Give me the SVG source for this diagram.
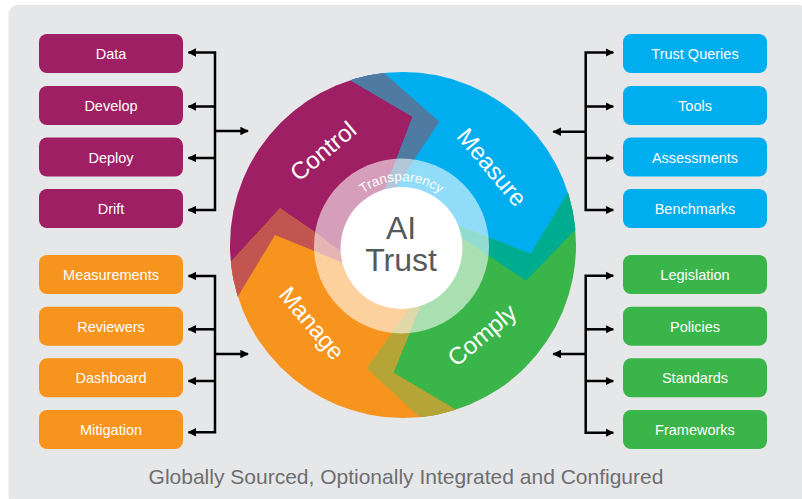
<svg xmlns="http://www.w3.org/2000/svg" width="802" height="499" viewBox="0 0 802 499">
<defs>
<style>
.box{stroke:none}
.bl{font-family:"Liberation Sans",Arial,sans-serif;font-size:14.5px;fill:#ffffff;text-anchor:middle}
.seg{font-family:"Liberation Sans",Arial,sans-serif;font-size:24px;fill:#ffffff;text-anchor:middle}
.con{fill:none;stroke:#000000;stroke-width:2.5;stroke-linejoin:miter}
.ar{marker-end:url(#ah)}
</style>
<marker id="ah" viewBox="0 0 10 10" refX="9" refY="5" markerWidth="8.5" markerHeight="8.5" markerUnits="userSpaceOnUse" orient="auto">
<path d="M0,0 L10,5 L0,10 z" fill="#000000"/>
</marker>
<clipPath id="cc"><circle cx="403" cy="245" r="173"/></clipPath>
<path id="arcT" d="M336.5,246 A65,65 0 0 1 466.5,246"/>
</defs>
<rect x="0" y="0" width="802" height="499" fill="#ffffff"/>
<rect x="8.5" y="5" width="800" height="500" rx="9" fill="#e6e7e8"/>

<g id="wheel" clip-path="url(#cc)">
<polygon fill="#9e1f63" points="402,246 385.8,202.2 415,158.3 439.3,121.7 383,72 355,47 180,40 180,340 219,327.5 237.7,296.7 275,235 314.3,251 340,261.7 365.7,272.4"/>
<polygon fill="#00aeef" points="402,246 380.7,200 396.7,158.3 412.7,116.7 350,80 316,60 330,20 640,20 640,210 602,202 576.7,228.3 526,280.7 489.3,256 445.3,226.4"/>
<polygon fill="#3ab54a" points="402,246 445.9,220.6 488.3,237.3 530.7,254 568.3,191.7 587,160.5 640,150 640,480 445.6,440.9 419.3,416.7 366.7,368.3 391.7,333.3 410,306.7 428.3,280.1"/>
<polygon fill="#f7941e" points="402,246 431.4,278.3 420.7,305 410,331.7 393.3,372.7 455,409.3 486,427.6 480,470 180,470 180,290 206.5,288.4 231,261.7 280,208.3 314.3,231.7 338.3,250 362.3,268.3"/>
<polygon fill="#4f7ba2" points="316,60 350,80 412.7,116.7 396.7,158.3 380.7,200 385.8,202.2 415,158.3 439.3,121.7 383,72 355,47"/>
<polygon fill="#00ac90" points="587,160.5 568.3,191.7 530.7,254 488.3,237.3 445.9,220.6 445.3,226.4 489.3,256 526,280.7 576.7,228.3 602,202"/>
<polygon fill="#b4a536" points="486,427.6 455,409.3 393.3,372.7 410,331.7 420.7,305 431.4,278.3 428.3,280.1 410,306.7 391.7,333.3 366.7,368.3 419.3,416.7 445.6,440.9"/>
<polygon fill="#c2554f" points="206.5,288.4 231,261.7 280,208.3 314.3,231.7 338.3,250 362.3,268.3 365.7,272.4 340,261.7 314.3,251 275,235 237.7,296.7 219,327.5"/>
</g>
<g id="ring">
<circle cx="401.5" cy="246" r="87.5" fill="#ffffff" fill-opacity="0.57"/>
<circle cx="401.5" cy="248" r="61" fill="#ffffff"/>
<text font-family="'Liberation Sans',Arial,sans-serif" font-size="13.5" fill="#ffffff" text-anchor="middle"><textPath href="#arcT" startOffset="50%">Transparency</textPath></text>
<text x="401" y="239" font-family="'Liberation Sans',Arial,sans-serif" font-size="32" fill="#58595b" text-anchor="middle">AI</text>
<text x="401" y="270.5" font-family="'Liberation Sans',Arial,sans-serif" font-size="32" fill="#58595b" text-anchor="middle">Trust</text>
</g>
<g id="seg-control"><text class="seg" transform="translate(323,151) rotate(-40)" dy="0.35em">Control</text></g>
<g id="seg-measure"><text class="seg" transform="translate(492,167) rotate(50)" dy="0.35em">Measure</text></g>
<g id="seg-comply"><text class="seg" transform="translate(482,335) rotate(-40)" dy="0.35em">Comply</text></g>
<g id="seg-manage"><text class="seg" transform="translate(312,323) rotate(50)" dy="0.35em">Manage</text></g>

<g id="node-data"><rect class="box" x="39" y="34" width="144" height="39" rx="8" fill="#9e1f63"/><text class="bl" x="111" y="59">Data</text></g>
<g id="node-develop"><rect class="box" x="39" y="86" width="144" height="39" rx="8" fill="#9e1f63"/><text class="bl" x="111" y="111">Develop</text></g>
<g id="node-deploy"><rect class="box" x="39" y="137.5" width="144" height="39" rx="8" fill="#9e1f63"/><text class="bl" x="111" y="162.5">Deploy</text></g>
<g id="node-drift"><rect class="box" x="39" y="189" width="144" height="39" rx="8" fill="#9e1f63"/><text class="bl" x="111" y="214">Drift</text></g>

<g id="node-measurements"><rect class="box" x="39" y="255" width="144" height="39" rx="8" fill="#f7941e"/><text class="bl" x="111" y="280">Measurements</text></g>
<g id="node-reviewers"><rect class="box" x="39" y="306.7" width="144" height="39" rx="8" fill="#f7941e"/><text class="bl" x="111" y="331.7">Reviewers</text></g>
<g id="node-dashboard"><rect class="box" x="39" y="358.3" width="144" height="39" rx="8" fill="#f7941e"/><text class="bl" x="111" y="383.3">Dashboard</text></g>
<g id="node-mitigation"><rect class="box" x="39" y="410" width="144" height="39" rx="8" fill="#f7941e"/><text class="bl" x="111" y="435">Mitigation</text></g>

<g id="node-trustqueries"><rect class="box" x="623" y="34" width="144" height="39" rx="8" fill="#00aeef"/><text class="bl" x="695" y="59">Trust Queries</text></g>
<g id="node-tools"><rect class="box" x="623" y="86" width="144" height="39" rx="8" fill="#00aeef"/><text class="bl" x="695" y="111">Tools</text></g>
<g id="node-assessments"><rect class="box" x="623" y="137.5" width="144" height="39" rx="8" fill="#00aeef"/><text class="bl" x="695" y="162.5">Assessments</text></g>
<g id="node-benchmarks"><rect class="box" x="623" y="189" width="144" height="39" rx="8" fill="#00aeef"/><text class="bl" x="695" y="214">Benchmarks</text></g>

<g id="node-legislation"><rect class="box" x="623" y="255" width="144" height="39" rx="8" fill="#3ab54a"/><text class="bl" x="695" y="280">Legislation</text></g>
<g id="node-policies"><rect class="box" x="623" y="306.7" width="144" height="39" rx="8" fill="#3ab54a"/><text class="bl" x="695" y="331.7">Policies</text></g>
<g id="node-standards"><rect class="box" x="623" y="358.3" width="144" height="39" rx="8" fill="#3ab54a"/><text class="bl" x="695" y="383.3">Standards</text></g>
<g id="node-frameworks"><rect class="box" x="623" y="410" width="144" height="39" rx="8" fill="#3ab54a"/><text class="bl" x="695" y="435">Frameworks</text></g>

<g id="connectors">
<path class="con ar" d="M215,131 V52.5 H188.5"/>
<path class="con ar" d="M215,131 V210 H188.5"/>
<path class="con ar" d="M215,106.5 H188.5"/>
<path class="con ar" d="M215,158 H188.5"/>
<path class="con ar" d="M215,131 H248"/>

<path class="con ar" d="M215,354 V276 H188.5"/>
<path class="con ar" d="M215,354 V432.3 H188.5"/>
<path class="con ar" d="M215,329.3 H188.5"/>
<path class="con ar" d="M215,381 H188.5"/>
<path class="con ar" d="M215,354 H248"/>

<path class="con ar" d="M585.7,131.7 V52.5 H613.3"/>
<path class="con ar" d="M585.7,131.7 V210 H613.3"/>
<path class="con ar" d="M585.7,106.5 H613.3"/>
<path class="con ar" d="M585.7,158 H613.3"/>
<path class="con ar" d="M585.7,131.7 H553.3"/>

<path class="con ar" d="M585.7,354 V275.7 H613.3"/>
<path class="con ar" d="M585.7,354 V432.7 H613.3"/>
<path class="con ar" d="M585.7,329.3 H613.3"/>
<path class="con ar" d="M585.7,381 H613.3"/>
<path class="con ar" d="M585.7,354 H553.3"/>
</g>
<text x="406" y="484" font-family="'Liberation Sans',Arial,sans-serif" font-size="21" fill="#6d6e71" text-anchor="middle">Globally Sourced, Optionally Integrated and Configured</text>
</svg>
